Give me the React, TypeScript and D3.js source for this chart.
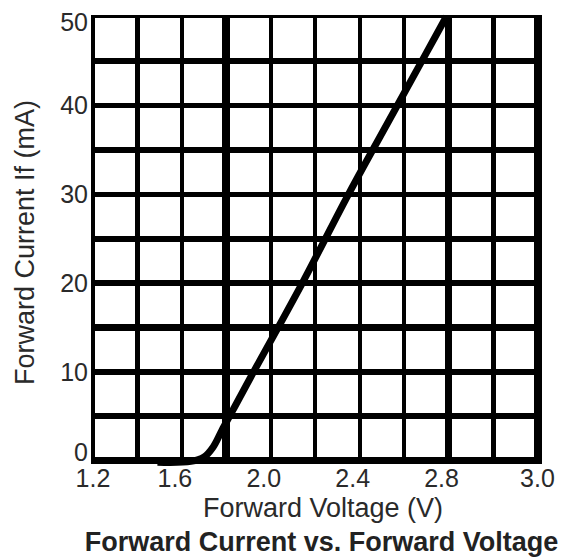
import React from "react";
import * as d3 from "d3";

// forward voltage (V) vs forward current (mA)
const voltage = [1.49, 1.64, 1.70, 1.74, 1.78, 1.83, 1.91, 2.14, 2.35, 2.55, 2.70, 2.79];
const current = [-0.2, -0.1, 0.4, 1.5, 3.4, 5.7, 9.4, 19.9, 30.0, 39.1, 45.9, 50];

// tick labels as printed on the original (last one says 3.0 on the 3.2 line)
const xTickValues = [1.2, 1.6, 2.0, 2.4, 2.8, 3.2];
const xTickLabels = ["1.2", "1.6", "2.0", "2.4", "2.8", "3.0"];
const yTickValues = [0, 10, 20, 30, 40, 50];

const W = 563;
const H = 558;
const plot = { left: 93, right: 537.5, top: 16.5, bottom: 460.5 };

// grid line thickness, the scan is uneven
const vWidths = [4, 5, 4, 8, 4, 4, 4, 4, 7, 5, 8];
const hWidths = [7, 6, 6, 7, 6, 6, 5, 6, 5, 6, 3];

const textColor = "#2a2a2a";
const font = "'Liberation Sans', Arial, sans-serif";

export default function App() {
  const x = d3.scaleLinear().domain([1.2, 3.2]).range([plot.left, plot.right]);
  const y = d3.scaleLinear().domain([0, 50]).range([plot.bottom, plot.top]);

  const points = voltage.map((v, i) => [v, current[i]] as [number, number]);
  const line = d3
    .line<[number, number]>()
    .x((d) => x(d[0]))
    .y((d) => y(d[1]))
    .curve(d3.curveCatmullRom.alpha(0.5));

  const xGrid = x.ticks(10);
  const yGrid = y.ticks(10);

  return (
    <svg
      width={W}
      height={H}
      style={{ position: "absolute", left: 0, top: 0, background: "#fff" }}
      fontFamily={font}
    >
      <rect width={W} height={H} fill="#fff" />
      <g shapeRendering="crispEdges">
        {yGrid.map((v, i) => (
          <line
            key={"h" + v}
            x1={plot.left - 2}
            x2={plot.right + 4}
            y1={y(v)}
            y2={y(v)}
            stroke="#000"
            strokeWidth={hWidths[i]}
          />
        ))}
        {xGrid.map((v, i) => (
          <line
            key={"v" + v}
            x1={x(v)}
            x2={x(v)}
            y1={plot.top - 1.5}
            y2={plot.bottom + 3.5}
            stroke="#000"
            strokeWidth={vWidths[i]}
          />
        ))}
      </g>
      <path
        d={line(points) ?? ""}
        fill="none"
        stroke="#000"
        strokeWidth={7}
        strokeLinejoin="round"
      />

      {yTickValues.map((v) => (
        <text
          key={"yl" + v}
          x={88}
          y={Math.min(Math.max(y(v), 22), 452)}
          textAnchor="end"
          dominantBaseline="central"
          fontSize={25}
          fill={textColor}
        >
          {v}
        </text>
      ))}
      {xTickValues.map((v, i) => (
        <text
          key={"xl" + v}
          x={x(v) + (i === 0 || i === xTickValues.length - 1 ? 0 : -7)}
          y={487}
          textAnchor="middle"
          fontSize={25}
          fill={textColor}
        >
          {xTickLabels[i]}
        </text>
      ))}

      <text x={323} y={517} textAnchor="middle" fontSize={27} fill={textColor}>
        Forward Voltage (V)
      </text>
      <text
        transform={`translate(34,242.5) rotate(-90)`}
        textAnchor="middle"
        fontSize={27}
        fill={textColor}
      >
        Forward Current If (mA)
      </text>
      <text x={321.5} y={551} textAnchor="middle" fontSize={27} fontWeight="bold" fill="#222">
        Forward Current vs. Forward Voltage
      </text>
    </svg>
  );
}
